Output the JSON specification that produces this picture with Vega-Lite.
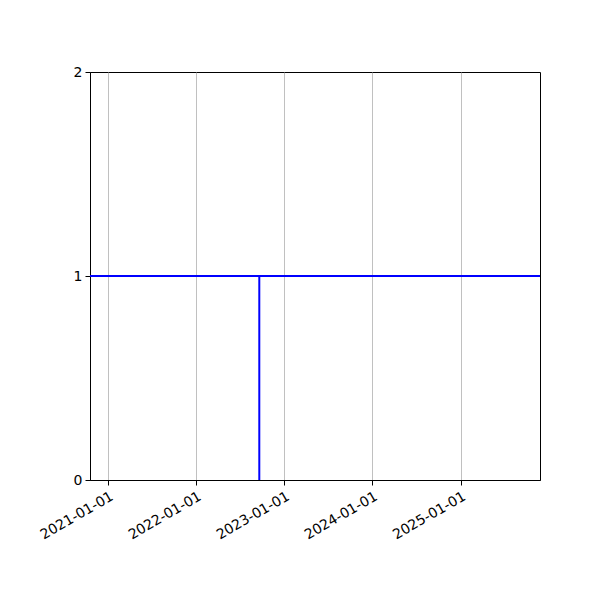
{
  "$schema": "https://vega.github.io/schema/vega-lite/v6.json",
  "autosize": "none",
  "width": 450,
  "height": 408,
  "padding": {"left": 90, "top": 72, "right": 60, "bottom": 120},
  "background": "white",
  "config": {
    "view": {"stroke": "black", "strokeWidth": 1},
    "axis": {
      "labelFont": "DejaVu Sans",
      "labelFontSize": 14,
      "labelColor": "black",
      "domainColor": "black",
      "tickColor": "black",
      "tickSize": 5,
      "tickWidth": 1,
      "domainWidth": 1,
      "title": null
    }
  },
  "datasets": {
    "hline": [{"level": 1}],
    "vline": [{"date": "2022-09-19", "low": 0, "high": 1}]
  },
  "layer": [
    {
      "data": {"name": "vline"},
      "mark": {"type": "rule", "color": "#0000ff", "strokeWidth": 2},
      "encoding": {
        "x": {
          "field": "date",
          "type": "temporal",
          "scale": {
            "type": "utc",
            "domain": [
              {"year": 2020, "month": 10, "date": 17, "utc": true},
              {"year": 2025, "month": 11, "date": 26, "utc": true}
            ]
          },
          "axis": {
            "values": [
              {"year": 2021, "month": 1, "date": 1, "utc": true},
              {"year": 2022, "month": 1, "date": 1, "utc": true},
              {"year": 2023, "month": 1, "date": 1, "utc": true},
              {"year": 2024, "month": 1, "date": 1, "utc": true},
              {"year": 2025, "month": 1, "date": 1, "utc": true}
            ],
            "labelExpr": "utcFormat(datum.value, '%Y-%m-%d')",
            "labelAngle": -30,
            "labelAlign": "right",
            "labelBaseline": "top",
            "labelPadding": 4,
            "labelOverlap": false,
            "grid": true,
            "gridColor": "#b0b0b0",
            "gridWidth": 0.8
          }
        },
        "y": {
          "field": "low",
          "type": "quantitative",
          "scale": {"domain": [0, 2], "nice": false, "zero": false},
          "axis": {"values": [0, 1, 2], "grid": false, "labelPadding": 3, "labelOverlap": false, "labelExpr": "format(datum.value, 'd')"}
        },
        "y2": {"field": "high"}
      }
    },
    {
      "data": {"name": "hline"},
      "mark": {"type": "rule", "color": "#0000ff", "strokeWidth": 2},
      "encoding": {
        "y": {
          "field": "level",
          "type": "quantitative",
          "scale": {"domain": [0, 2], "nice": false, "zero": false},
          "axis": {"values": [0, 1, 2], "grid": false, "labelPadding": 3, "labelOverlap": false, "labelExpr": "format(datum.value, 'd')"}
        }
      }
    }
  ]
}
